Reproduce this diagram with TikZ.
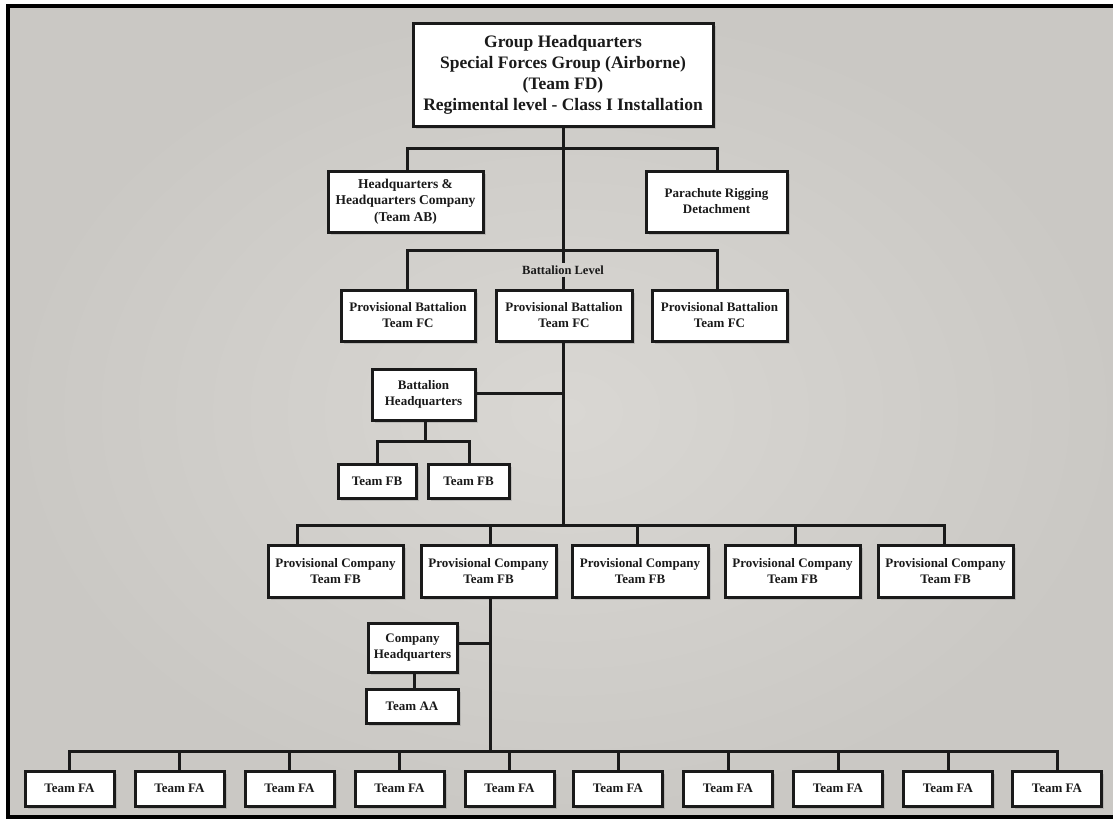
\documentclass[tikz,border=0pt]{standalone}
\usepackage{fontspec}
\setmainfont{Liberation Serif}
\usetikzlibrary{shadows}
\definecolor{paper}{HTML}{D9D7D3}
\definecolor{paperedge}{HTML}{CAC8C4}
\definecolor{ink}{HTML}{1A1A1A}
\begin{document}
\begin{tikzpicture}[x=1pt,y=-1pt,
  box/.style={draw=ink, line width=3pt, fill=white, align=center, inner sep=0pt,
    font=\bfseries\fontsize{13}{16}\selectfont, text=ink,
    drop shadow={opacity=0.3, shadow xshift=2.5pt, shadow yshift=-3pt}},
  wire/.style={draw=ink, line width=3pt},
  fa/.style={box, minimum width=89pt, minimum height=35pt}]
\useasboundingbox (0,0) rectangle (1113,819);
% background and frame
\fill[white] (0,0) rectangle (1113,819);
\shade[inner color=paper, outer color=paperedge] (8,6) rectangle (1125,817);
\draw[black, line width=3.5pt] (1125,6) -- (8,6) -- (8,817) -- (1125,817);

% top
\node[box, minimum width=300pt, minimum height=103pt, font=\bfseries\fontsize{17.5}{21}\selectfont] (top) at (563,74.5)
  {Group Headquarters\\Special Forces Group (Airborne)\\(Team FD)\\Regimental level - Class I Installation};
\node[box, minimum width=155pt, minimum height=61pt, font=\bfseries\fontsize{13.5}{16.5}\selectfont] (hhc) at (405.5,201.5)
  {Headquarters \&\\Headquarters Company\\(Team AB)};
\node[box, minimum width=141pt, minimum height=61pt] (prd) at (716.5,201.5)
  {Parachute Rigging\\Detachment};

% battalions
\node[box, minimum width=134pt, minimum height=51pt] (b1) at (408,315.5) {Provisional Battalion\\Team FC};
\node[box, minimum width=136pt, minimum height=51pt] (b2) at (564,315.5) {Provisional Battalion\\Team FC};
\node[box, minimum width=135pt, minimum height=51pt] (b3) at (719.5,315.5) {Provisional Battalion\\Team FC};
\node[font=\bfseries\fontsize{12.5}{14}\selectfont, text=ink, inner sep=2pt] (bl) at (563,270) {Battalion Level};

\node[box, minimum width=103pt, minimum height=51pt] (bhq) at (423.5,394.5) {Battalion\\Headquarters};
\node[box, minimum width=78pt, minimum height=34pt] (fb1) at (377,481) {Team FB};
\node[box, minimum width=81pt, minimum height=34pt] (fb2) at (468.5,481) {Team FB};

% companies
\node[box, minimum width=135pt, minimum height=52pt] (c1) at (335.5,571) {Provisional Company\\Team FB};
\node[box, minimum width=135pt, minimum height=52pt] (c2) at (488.5,571) {Provisional Company\\Team FB};
\node[box, minimum width=136pt, minimum height=52pt] (c3) at (640,571) {Provisional Company\\Team FB};
\node[box, minimum width=135pt, minimum height=52pt] (c4) at (792.5,571) {Provisional Company\\Team FB};
\node[box, minimum width=135pt, minimum height=52pt] (c5) at (945.5,571) {Provisional Company\\Team FB};

\node[box, minimum width=89pt, minimum height=49pt] (chq) at (412.5,647.5) {Company\\Headquarters};
\node[box, minimum width=92pt, minimum height=34pt] (aa) at (412,706) {Team AA};

% team FA
\foreach \i/\x in {1/69.5,2/179.5,3/289.5,4/399.5,5/509.5,6/618,7/728,8/838,9/948,10/1057}
  \node[fa] (fa\i) at (\x,788.5) {Team FA};

% connectors
\coordinate (j1) at (563,148);
\coordinate (j2) at (563,250);
\draw[wire] (top.south) -- (j1);
\draw[wire] (hhc.north -| 407,0) -- (407,148) -- (717,148) -- (prd.north -| 717,0);
\draw[wire] (j1) -- (j2);
\draw[wire] (j2) -- (bl.north);
\draw[wire] (bl.south) -- (b2.north -| bl.south);
\draw[wire] (b1.north -| 407,0) -- (407,250) -- (717,250) -- (b3.north -| 717,0);

\coordinate (j3) at (563,525);
\draw[wire] (b2.south -| j3) -- (j3);
\draw[wire] (bhq.east |- 0,393) -- (563,393);
\draw[wire] (bhq.south -| 425,0) -- (425,441);
\draw[wire] (fb1.north -| 377,0) -- (377,441) -- (469,441) -- (fb2.north -| 469,0);

\draw[wire] (c1.north -| 297,0) -- (297,525) -- (944,525) -- (c5.north -| 944,0);
\draw[wire] (490,525) -- (c2.north -| 490,0);
\draw[wire] (637,525) -- (c3.north -| 637,0);
\draw[wire] (795,525) -- (c4.north -| 795,0);

\coordinate (j4) at (490,751);
\draw[wire] (c2.south -| j4) -- (j4);
\draw[wire] (chq.east |- 0,643) -- (490,643);
\draw[wire] (chq.south -| 414,0) -- (aa.north -| 414,0);

\draw[wire] (fa1.north -| 69.5,0) -- (69.5,751) -- (1057,751) -- (fa10.north);
\foreach \i/\x in {2/179.5,3/289.5,4/399.5,5/509.5,6/618,7/728,8/838,9/948}
  \draw[wire] (\x,751) -- (fa\i.north);
\end{tikzpicture}
\end{document}
